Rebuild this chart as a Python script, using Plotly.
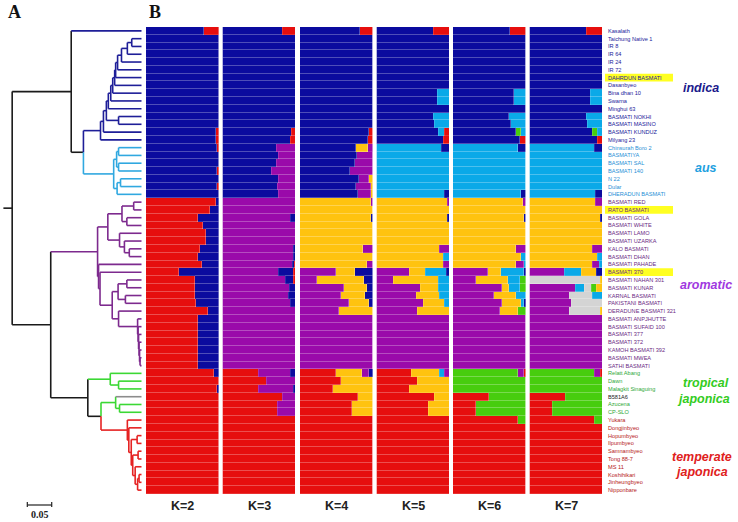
import plotly.graph_objects as go

W, H = 738, 522

# ---------------- data ----------------
NAMES = ["Kasalath", "Taichung Native 1", "IR 8", "IR 64", "IR 24", "IR 72", "DAHRDUN BASMATI",
         "Dasanbyeo", "Bina dhan 10", "Swarna", "Minghui 63", "BASMATI NOKHI", "BASMATI MASINO",
         "BASMATI KUNDUZ", "Milyang 23",
         "Chinsurah Boro 2", "BASMATIYA", "BASMATI SAL", "BASMATI 140", "N 22", "Dular", "DHERADUN BASMATI",
         "BASMATI RED", "RATO BASMATI", "BASMATI GOLA", "BASMATI WHITE", "BASMATI LAMO", "BASMATI UZARKA",
         "KALO BASMATI", "BASMATI DHAN", "BASMATI PAHADE", "BASMATI 370", "BASMATI NAHAN 301",
         "BASMATI KUNAR", "KARNAL BASMATI", "PAKISTANI BASMATI", "DERADUNE BASMATI 321",
         "BASMATI ANPJHUTTE", "BASMATI SUFAID 100", "BASMATI 377", "BASMATI 372", "KAMOH BASMATI 392",
         "BASMATI MWEA", "SATHI BASMATI",
         "Relatt Abang", "Dawn", "Malagkit Sinaguing", "B581A6", "Azucena", "CP-SLO",
         "Yukara", "Dongjinbyeo", "Hopumbyeo", "Ilpumbyeo", "Samnambyeo", "Tong 88-7", "MS 11",
         "Koshihikari", "Jinheungbyeo", "Nipponbare"]

GROUP = (["indica"] * 15 + ["aus"] * 7 + ["aromatic"] * 22 + ["tropical"] * 3 + ["other"]
         + ["tropical"] * 2 + ["temperate"] * 10)
HIGHLIGHT = ["DAHRDUN BASMATI", "RATO BASMATI", "BASMATI 370"]
K_LABELS = ["K=2", "K=3", "K=4", "K=5", "K=6", "K=7"]

# membership: cluster code + percent, left to right
Q2 = ["B80 R20", "B100", "B100", "B100", "B100", "B100", "B100", "B100", "B100", "B100",
      "B100", "B100", "B100", "B96 R4", "B96 R4", "B97 R3", "B100", "B100", "B98 R2", "B100",
      "B97 R3", "B100", "R96 B4", "R88 B12", "R71 B29", "R78 B22", "R83 B17", "R82 B18", "R74 B26", "R71 B29",
      "R77 B23", "R46 B54", "R68 B32", "R67 B33", "R67 B33", "R69 B31", "R85 B15", "R71 B29", "R72 B28", "R72 B28",
      "R72 B28", "R72 B28", "R72 B28", "R72 B28", "R93 B7", "R100", "R97 B3", "R100", "R100", "R100",
      "R100", "R100", "R100", "R100", "R100", "R100", "R100", "R100", "R100", "R100"]
Q3 = ["B83 R17", "B100", "B100", "B100", "B100", "B100", "B100", "B100", "B100", "B100",
      "B100", "B100", "B100", "B95 R5", "B94 R6", "B74 P26", "B77 P23", "B74 P26", "B68 P32", "B77 P23",
      "B75 P25", "B77 P23", "P100", "P100", "P94 B6", "P100", "P100", "P100", "P98 B2", "P97 B3",
      "P96 B3 R1", "P77 B21 R2", "P87 B10 R3", "P92 B8", "P91 B9", "P94 B6", "P100", "P100", "P100", "P100",
      "P100", "P100", "P100", "P100", "R50 P44 B6", "R60 P40", "R49 P48 B3", "R82 P18", "R75 P25", "R75 P25",
      "R100", "R100", "R100", "R100", "R100", "R100", "R100", "R100", "R100", "R100"]
Q4 = ["B83 R17", "B100", "B100", "B100", "B100", "B100", "B100", "B100", "B100", "B100",
      "B100", "B100", "B100", "B95 R5", "B94 R6", "B77 Y16 P7", "B78 P22", "B75 P25", "B69 P31", "B81 P14 Y5",
      "B77 P21 Y2", "B80 P18 Y2", "Y98 P2", "Y100", "Y98 B2", "Y100", "Y100", "Y100", "Y87 P13", "Y100",
      "Y92 P8", "P50 Y25 B25", "P24 Y64 B12", "P61 Y31 B8", "P57 Y33 B10", "P67 Y28 B5", "P54 Y46", "P100", "P100", "P100",
      "P100", "P100", "P100", "P100", "R50 Y35 P10 B5", "R56 Y44", "R46 Y54", "R80 Y20", "R72 Y28", "R72 Y28",
      "R100", "R100", "R100", "R100", "R100", "R100", "R100", "R100", "R100", "R100"]
Q5 = ["B79 R21", "B100", "B100", "B100", "B100", "B100", "B100", "B100", "B84 L16", "B84 L16",
      "B100", "B78 L22", "B80 L20", "B85 L9 R6", "B92 R8", "L89 B11", "L100", "L100", "L100", "L100",
      "L100", "L93 B7", "Y98 P2", "Y100", "Y98 B2", "Y100", "Y100", "Y100", "Y87 P13", "Y92 L8",
      "Y92 P8", "P46 Y22 L28 B4", "P23 Y62 L15", "P60 Y25 L15", "P55 Y31 L14", "P64 Y30 L6", "P56 Y44", "P100", "P100", "P100",
      "P100", "P100", "P100", "P100", "R48 Y38 L7 P7", "R56 Y44", "R46 Y54", "R80 Y20", "R71 Y29", "R71 Y29",
      "R100", "R100", "R100", "R100", "R100", "R100", "R100", "R100", "R100", "R100"]
Q6 = ["B79 R21", "B100", "B100", "B100", "B100", "B100", "B100", "B100", "B84 L16", "B84 L16",
      "B100", "B77 L23", "B80 L20", "B86 G7 L7", "B92 R8", "L89 B11", "L100", "L100", "L100", "L100",
      "L100", "L93 B7", "Y96 P4", "Y100", "Y98 B2", "Y100", "Y100", "Y100", "Y87 P13", "Y93 L7",
      "Y87 P11 L2", "P48 Y18 L31 B3", "P31 Y45 L16 G8", "P67 Y10 L15 G8", "P57 Y30 L13", "P67 Y26 L5 B2", "P64 Y26 G10", "P100", "P100", "P100",
      "P100", "P100", "P100", "P100", "G90 P7 R3", "G100", "G100", "R50 G50", "R32 G68", "R32 G68",
      "R89 G11", "R100", "R100", "R100", "R100", "R100", "R100", "R100", "R100", "R100"]
Q7 = ["B79 R21", "B100", "B100", "B100", "B100", "B100", "B100", "B100", "B84 L16", "B84 L16",
      "B100", "B78 L22", "B80 L20", "B86 G7 L7", "B93 R7", "L89 B11", "L100", "L100", "L100", "L100",
      "L100", "L91 B9", "Y91 P9", "Y100", "Y98 B2", "Y100", "Y100", "Y100", "Y86 P14", "Y93 L7",
      "Y87 P9 L4", "P48 L23 Y21 B8", "S97 Y3", "P63 L13 S9 G7 Y8", "P55 S31 L14", "P58 S42", "P55 S42 Y3", "P100", "P100", "P100",
      "P100", "P100", "P100", "P100", "G90 P8 R2", "G100", "G100", "R50 G50", "R32 G68", "R32 G68",
      "R89 G11", "R100", "R100", "R100", "R100", "R100", "R100", "R100", "R100", "R100"]
Q_ALL = [Q2, Q3, Q4, Q5, Q6, Q7]

CLUSTER_COLORS = {"B": "#0b0b9e", "R": "#e60e0e", "P": "#9a0aaa", "Y": "#ffc30f",
                  "L": "#0aa9e8", "G": "#47cd0e", "S": "#d4d4d4"}

# dendrogram colours
BLK, DB, LBL, PU, GR, RD, GY = "#1a1a1a", "#1e1e98", "#30a8e0", "#7d2a8e", "#3bd834", "#e52222", "#8c8c8c"
LEAF_LINE = {"indica": DB, "aus": LBL, "aromatic": PU, "tropical": GR, "other": GY, "temperate": RD}
LABEL_COL = {"indica": "#1a1a9a", "aus": "#1f8fd6", "aromatic": "#6b2a84", "tropical": "#2ea836",
             "other": "#222222", "temperate": "#b51818"}


def N(h, kids, c=None, ec=None, split=False):
    return {"h": h, "k": kids, "c": c, "ec": ec, "split": split}


# genetic-distance heights of the tree nodes (tips at 0)
LADDER = N(0.068, [N(0.063, [N(0.059, [N(0.055, [N(0.053, [N(0.049, [N(0.041, [N(0.029, [N(0.020, [1, 2]), 3]), 4]), 5]), 6]), 7]), 8]), 9]), 10])
INDICA = N(0.084, [N(0.078, [N(0.072, [LADDER, N(0.047, [11, 12])]), 13]), 14], c=DB)
AUS = N(0.057, [N(0.051, [N(0.047, [15, 16]), N(0.047, [17, 18])]), N(0.050, [N(0.043, [19, 20]), 21])], c=LBL)
AROM_U = N(0.069, [N(0.040, [N(0.016, [22, 23]), N(0.030, [24, 25])]),
                   N(0.045, [26, N(0.035, [27, N(0.025, [28, 29])])])])
AROM_L6 = N(0.008, [37, N(0.007, [38, N(0.006, [39, N(0.005, [40, N(0.004, [41, N(0.003, [42, 43])])])])])])
AROM_L = N(0.088, [30, N(0.085, [31, N(0.060, [N(0.048, [N(0.030, [32, 33]), N(0.033, [34, 35])]),
                                               N(0.047, [36, AROM_L6])])])])
AROM = N(0.090, [AROM_U, AROM_L], c=PU)
T1 = N(0.064, [44, N(0.047, [45, 46])], c=GR)
T2 = N(0.053, [47, N(0.045, [48, 49])], c=GR)
TJ = N(0.029, [50, N(0.026, [51, N(0.021, [N(0.009, [52, 53]),
                                           N(0.018, [N(0.007, [54, 55]),
                                                     N(0.013, [56, N(0.008, [N(0.005, [57, 58]), 59])])])])])], c=RD)
JAP = N(0.110, [T1, N(0.083, [T2, TJ], split=True)])
TREE = N(0.265, [N(0.144, [0, N(0.119, [INDICA, AUS], split=True)]), N(0.186, [AROM, JAP])], c=BLK)
ROOT_STUB = 0.283
SCALE_LEN = 0.05
SCALE_START = 0.234


# ---------------- helpers ----------------
def X(px):
    return px / W


def Y(py):
    return 1 - py / H


def parse(s):
    segs = [(t[0], float(t[1:])) for t in s.split()]
    tot = sum(v for _, v in segs)
    return [(c, 100 * v / tot) for c, v in segs]


fig = go.Figure()

# ---- dendrogram ----
def node_y(n):
    if isinstance(n, int):
        return n
    ys = [node_y(k) for k in n["k"]]
    n["y"] = (min(ys) + max(ys)) / 2
    return n["y"]


node_y(TREE)
segs = {}


def add(col, xs, ys):
    d = segs.setdefault(col, ([], []))
    d[0].extend(xs + [None])
    d[1].extend(ys + [None])


def child_col(k, col):
    if isinstance(k, int):
        return LEAF_LINE[GROUP[k]]
    return k["c"] or col


def draw(n, inherited, parent_h):
    col = n["c"] or inherited
    add(n["ec"] or col, [parent_h, n["h"]], [n["y"], n["y"]])
    kys = [k if isinstance(k, int) else k["y"] for k in n["k"]]
    if n["split"]:
        for k, ky in zip(n["k"], kys):
            add(child_col(k, col), [n["h"], n["h"]], [n["y"], ky])
    else:
        add(col, [n["h"], n["h"]], [min(kys), max(kys)])
    for k in n["k"]:
        if isinstance(k, int):
            add(LEAF_LINE[GROUP[k]], [n["h"], 0], [k, k])
        else:
            draw(k, col, n["h"])


draw(TREE, BLK, ROOT_STUB)
for col, (xs, ys) in segs.items():
    fig.add_trace(go.Scatter(x=xs, y=ys, mode="lines", line=dict(color=col, width=1.6),
                             xaxis="x", yaxis="y", hoverinfo="skip", showlegend=False))

# ---- STRUCTURE bar panels ----
PANEL_X0 = [146.0, 222.7, 300.0, 376.7, 453.0, 529.7]
PANEL_W = 72.7
rows = list(range(len(NAMES)))
for i, Q in enumerate(Q_ALL):
    parsed = [parse(s) for s in Q]
    nseg = max(len(p) for p in parsed)
    ax = "x%d" % (i + 2)
    for j in range(nseg):
        vals = [p[j][1] if j < len(p) else 0 for p in parsed]
        cols = [CLUSTER_COLORS[p[j][0]] if j < len(p) else "rgba(0,0,0,0)" for p in parsed]
        fig.add_trace(go.Bar(x=vals, y=rows, orientation="h", width=1,
                             marker=dict(color=cols, line=dict(color="rgba(255,255,255,0.3)", width=0.5)),
                             xaxis=ax, yaxis="y", hoverinfo="skip", showlegend=False))

layout = dict(
    width=W, height=H, margin=dict(l=0, r=0, t=0, b=0),
    paper_bgcolor="white", plot_bgcolor="white", barmode="stack", bargap=0,
    xaxis=dict(domain=[0, X(145)], range=[141.5 / 488, -3.5 / 488], visible=False),
    yaxis=dict(domain=[Y(494), Y(27)], range=[len(NAMES) - 0.5, -0.5], visible=False),
)
for i in range(6):
    layout["xaxis%d" % (i + 2)] = dict(domain=[X(PANEL_X0[i]), X(PANEL_X0[i] + PANEL_W)],
                                       range=[0, 100], visible=False, anchor="y")
fig.update_layout(**layout)

ann = []
shapes = []
# accession labels
for i, name in enumerate(NAMES):
    if name in HIGHLIGHT:
        shapes.append(dict(type="rect", xref="paper", yref="y", x0=X(605), x1=X(673),
                           y0=i - 0.5, y1=i + 0.5, fillcolor="#ffff22", line=dict(width=0), layer="below"))
    ann.append(dict(x=X(606), y=i, xref="paper", yref="y", text=name, showarrow=False,
                    xanchor="left", yanchor="middle",
                    font=dict(family="Liberation Sans, Arial", size=5.6, color=LABEL_COL[GROUP[i]])))

# K labels
for i, lab in enumerate(K_LABELS):
    ann.append(dict(x=0.5, y=Y(506), xref="x%d domain" % (i + 2), yref="paper", text="<b>%s</b>" % lab,
                    showarrow=False, xanchor="center", yanchor="middle",
                    font=dict(family="Liberation Sans, Arial", size=12.5, color="#222222")))

# group titles
GROUP_TITLES = [("indica", 701, 88, "#1a1a8c"), ("aus", 706, 168, "#1ea0e0"),
                ("aromatic", 706, 285, "#a038e0"), ("tropical", 706, 383, "#33cc22"),
                ("japonica", 703, 399, "#33cc22"), ("temperate", 702, 457, "#e02020"),
                ("japonica", 701, 472, "#e02020")]
for t, px, py, c in GROUP_TITLES:
    ann.append(dict(x=X(px), y=Y(py), xref="paper", yref="paper", text="<b><i>%s</i></b>" % t, showarrow=False,
                    xanchor="center", yanchor="middle",
                    font=dict(family="Liberation Sans, Arial", size=12.5, color=c)))

# panel letters
for t, px in [("A", 14), ("B", 155)]:
    ann.append(dict(x=X(px), y=Y(12), xref="paper", yref="paper", text="<b>%s</b>" % t, showarrow=False,
                    xanchor="center", yanchor="middle",
                    font=dict(family="Liberation Serif, Times New Roman", size=18, color="#111111")))

# scale bar
x0s, x1s = SCALE_START, SCALE_START - SCALE_LEN
shapes.append(dict(type="line", xref="x", yref="paper", x0=x0s, x1=x1s, y0=Y(505), y1=Y(505),
                   line=dict(color="#222", width=1.2)))
for xv in (x0s, x1s):
    shapes.append(dict(type="line", xref="x", yref="paper", x0=xv, x1=xv, y0=Y(502), y1=Y(507),
                       line=dict(color="#222", width=1.2)))
ann.append(dict(x=(x0s + x1s) / 2, y=Y(514), xref="x", yref="paper", text="<b>%g</b>" % SCALE_LEN,
                showarrow=False, xanchor="center", yanchor="middle",
                font=dict(family="Liberation Serif, Times New Roman", size=10, color="#222")))

fig.update_layout(annotations=ann, shapes=shapes)
fig.write_html("out.html", config={"displayModeBar": False},
               post_script="document.body.style.margin='0';")
